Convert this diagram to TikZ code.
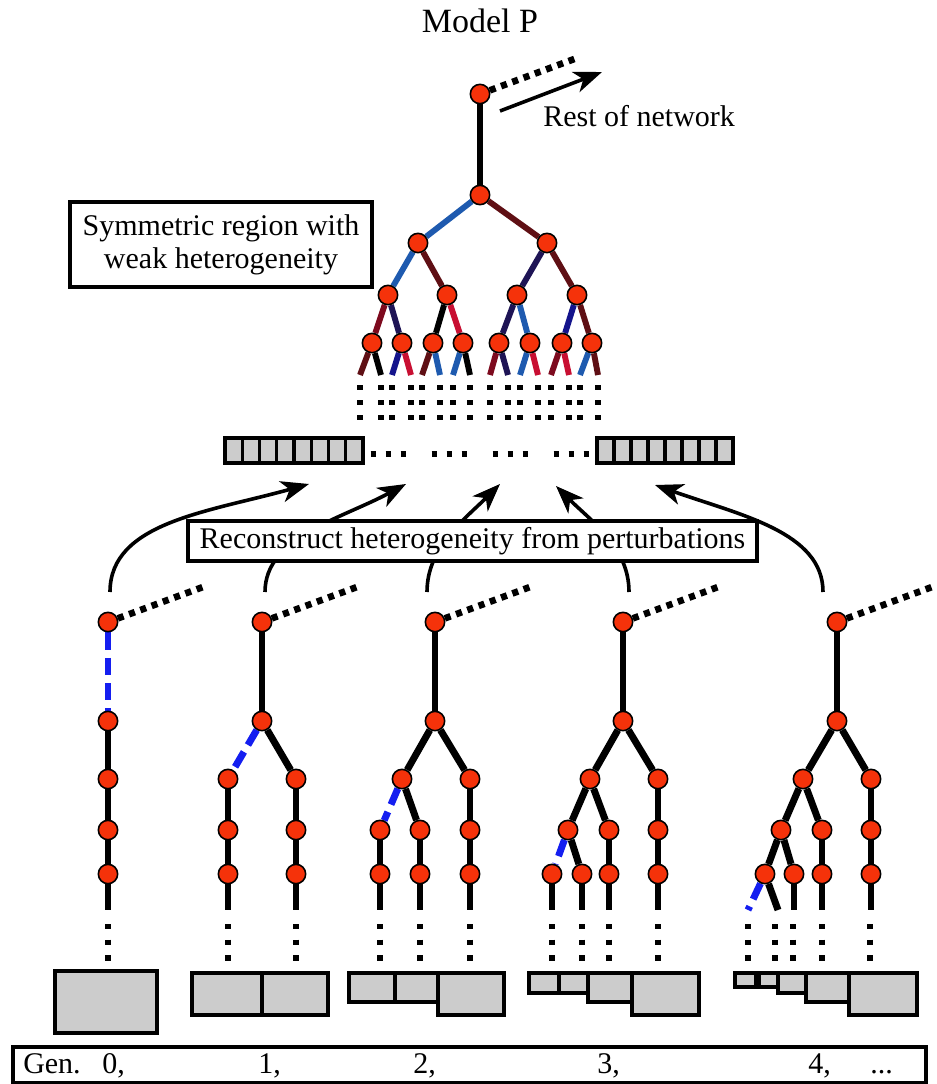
\documentclass[tikz,border=0pt]{standalone}
\usepackage{fontspec}
\setmainfont{Liberation Serif}
\usetikzlibrary{arrows.meta,backgrounds}
\definecolor{nred}{RGB}{245,50,10}
\definecolor{cgray}{RGB}{204,204,204}
\definecolor{cblue}{RGB}{30,90,175}
\definecolor{cmar}{RGB}{95,15,20}
\definecolor{cdred}{RGB}{125,10,30}
\definecolor{cnavy}{RGB}{30,20,85}
\definecolor{cdb}{RGB}{20,20,140}
\definecolor{ccrim}{RGB}{200,15,50}
\definecolor{dblue}{RGB}{20,30,240}
\begin{document}
\begin{tikzpicture}[x=0.75pt,y=-0.75pt,
  pt/.style={circle,draw=black,fill=nred,line width=1.2pt,minimum size=14.5pt,inner sep=0pt},
  te/.style={line width=4.4pt},
  be/.style={line width=5.2pt},
  bd/.style={line width=5.2pt,draw=dblue,dash pattern=on 13pt off 6pt},
  rd/.style={line width=5pt,dash pattern=on 4.6pt off 4.4pt},
  vd/.style={line width=4.1pt,dash pattern=on 4.1pt off 7.15pt},
  vdb/.style={line width=4.1pt,dash pattern=on 4.1pt off 7.6pt},
  cell/.style={draw=black,fill=cgray,line width=2.6pt},
  tb/.style={draw=black,line width=2.4pt,fill=white,inner sep=0pt,align=center,font=\fontsize{22.5}{24.75}\selectfont},
  lbl/.style={inner sep=0pt,font=\fontsize{22.5}{24.75}\selectfont},
  arr/.style={line width=2.7pt,-{Stealth[length=21pt,width=16pt,inset=6pt]}}
]
\useasboundingbox (0,0) rectangle (937,1084);

% ---------- top tree ----------
\node[lbl,font=\fontsize{25.5}{28}\selectfont,anchor=base] (title) at (480,33) {Model P};
\node[pt] (r0) at (480,94) {};
\node[pt] (r1) at (480,195) {};
\coordinate (r0q) at (577,58);
\coordinate (rs) at (500,111);
\coordinate (re) at (602,72);
\node[lbl,anchor=base west] (rest) at (543,127) {Rest of network};
\node[pt] (A) at (418,243) {};
\node[pt] (B) at (547,243) {};
\node[pt] (A1) at (388,295) {};
\node[pt] (A2) at (447,295) {};
\node[pt] (B1) at (517,295) {};
\node[pt] (B2) at (577,295) {};
\node[pt] (L1) at (372,343) {};
\node[pt] (L2) at (402,343) {};
\node[pt] (L3) at (433,343) {};
\node[pt] (L4) at (463,343) {};
\node[pt] (L5) at (499,343) {};
\node[pt] (L6) at (530,343) {};
\node[pt] (L7) at (562,343) {};
\node[pt] (L8) at (592,343) {};
\foreach \n/\x in {1/360,2/381,3/392,4/411,5/422,6/440,7/453,8/470,9/490,10/508,11/520,12/538,13/551,14/569,15/580,16/598}
  \coordinate (e\n) at (\x,375);

\node[tb,minimum width=226.5pt,minimum height=63.75pt] (sym) at (221,244.5) {Symmetric region with\\weak heterogeneity};

% ---------- strips ----------
\foreach \i in {0,...,7}
  \draw[cell] ({225+\i*17.25},438) rectangle ({225+(\i+1)*17.25},463);
\foreach \i in {0,...,7}
  \draw[cell] ({597+\i*17},438) rectangle ({597+(\i+1)*17},463);
\foreach \x in {370.5,431.5,492.5,553.5}
  \draw[line width=4.1pt,dash pattern=on 4.1pt off 7.15pt] (\x,454) -- (\x+36,454);

% ---------- bottom trees ----------
% tree 0
\node[pt] (t0r) at (108,622) {};
\node[pt] (t0a) at (108,721) {};
\node[pt] (t0b) at (108,779) {};
\node[pt] (t0c) at (108,830) {};
\node[pt] (t0d) at (108,874) {};
\coordinate (t0x) at (108,910);
\coordinate (t0q) at (203,587);
% tree 1
\node[pt] (t1r) at (262,622) {};
\node[pt] (t1a) at (262,721) {};
\node[pt] (t1bl) at (228,779) {};
\node[pt] (t1br) at (296,779) {};
\node[pt] (t1cl) at (228,830) {};
\node[pt] (t1cr) at (296,830) {};
\node[pt] (t1dl) at (228,874) {};
\node[pt] (t1dr) at (296,874) {};
\coordinate (t1xl) at (228,910);
\coordinate (t1xr) at (296,910);
\coordinate (t1q) at (357,587);
% tree 2
\node[pt] (t2r) at (435,622) {};
\node[pt] (t2a) at (435,721) {};
\node[pt] (t2bl) at (402,779) {};
\node[pt] (t2br) at (470,779) {};
\node[pt] (t2cll) at (380,830) {};
\node[pt] (t2clr) at (420,830) {};
\node[pt] (t2cr) at (470,830) {};
\node[pt] (t2dll) at (380,874) {};
\node[pt] (t2dlr) at (420,874) {};
\node[pt] (t2dr) at (470,874) {};
\coordinate (t2x1) at (380,910);
\coordinate (t2x2) at (420,910);
\coordinate (t2x3) at (470,910);
\coordinate (t2q) at (530,587);
% tree 3
\node[pt] (t3r) at (623,622) {};
\node[pt] (t3a) at (623,721) {};
\node[pt] (t3bl) at (590,779) {};
\node[pt] (t3br) at (658,779) {};
\node[pt] (t3cll) at (568,830) {};
\node[pt] (t3clr) at (609,830) {};
\node[pt] (t3cr) at (658,830) {};
\node[pt] (t3d1) at (552,874) {};
\node[pt] (t3d2) at (582,874) {};
\node[pt] (t3d3) at (609,874) {};
\node[pt] (t3d4) at (658,874) {};
\coordinate (t3x1) at (552,910);
\coordinate (t3x2) at (582,910);
\coordinate (t3x3) at (609,910);
\coordinate (t3x4) at (658,910);
\coordinate (t3q) at (718,587);
% tree 4
\node[pt] (t4r) at (837,622) {};
\node[pt] (t4a) at (837,721) {};
\node[pt] (t4bl) at (803,779) {};
\node[pt] (t4br) at (871,779) {};
\node[pt] (t4cll) at (781,830) {};
\node[pt] (t4clr) at (822,830) {};
\node[pt] (t4cr) at (871,830) {};
\node[pt] (t4d1) at (765,874) {};
\node[pt] (t4d2) at (794,874) {};
\node[pt] (t4d3) at (822,874) {};
\node[pt] (t4d4) at (871,874) {};
\coordinate (t4x0) at (748,910);
\coordinate (t4x1) at (778,910);
\coordinate (t4x2) at (794,910);
\coordinate (t4x3) at (822,910);
\coordinate (t4x4) at (871,910);
\coordinate (t4q) at (932,587);

% arrow coordinates
\coordinate (a0s) at (110,592); \coordinate (a0e) at (309,484);
\coordinate (a1s) at (265,592); \coordinate (a1e) at (406,484);
\coordinate (a2s) at (427,592); \coordinate (a2e) at (500,484);
\coordinate (a3s) at (629,592); \coordinate (a3e) at (556,486);
\coordinate (a4s) at (823,592); \coordinate (a4e) at (655,485);

\draw[arr] (a0s) .. controls +(0,-70) and +(-100,28) .. (a0e);
\draw[arr] (a1s) .. controls +(0,-55) and +(-65,35) .. (a1e);
\draw[arr] (a2s) .. controls +(0,-45) and +(-35,35) .. (a2e);
\draw[arr] (a3s) .. controls +(0,-45) and +(35,35) .. (a3e);
\draw[arr] (a4s) .. controls +(0,-60) and +(85,30) .. (a4e);

\node[tb,minimum width=426.75pt,minimum height=30pt] (rec) at (472.5,541) {Reconstruct heterogeneity from perturbations};

% bottom boxes
\draw[cell] (55,971) rectangle (157,1033);
\draw[cell] (192,973) rectangle (262,1015);
\draw[cell] (262,973) rectangle (328,1015);
\draw[cell] (349,973) rectangle (395,1002);
\draw[cell] (395,973) rectangle (438,1002);
\draw[cell] (438,973) rectangle (504,1015);
\draw[cell] (529,973) rectangle (559,993);
\draw[cell] (559,973) rectangle (588,993);
\draw[cell] (588,973) rectangle (632,1002);
\draw[cell] (632,973) rectangle (699,1015);
\draw[cell] (735,973) rectangle (756,987);
\draw[cell] (759,973) rectangle (778,987);
\draw[cell] (778,973) rectangle (806,993);
\draw[cell] (806,973) rectangle (849,1002);
\draw[cell] (849,973) rectangle (917,1015);

% bottom vertical dots
\foreach \x in {108,228,296,380,420,470,552,582,609,658,748,775,793,822,870}
  \draw[vdb] (\x,924) -- (\x,961);
% top vertical dots
\foreach \x in {360,381,392,411,422,440,453,470,490,508,520,538,551,569,580,598}
  \draw[vd] (\x,385) -- (\x,421.5);

% Gen label
\node[draw=black,line width=2.4pt,minimum width=684.75pt,minimum height=27pt,inner sep=0pt] (gen) at (469.5,1065) {};
\node[lbl,anchor=base west] (g0) at (23,1073) {Gen.};
\node[lbl,anchor=base west] (g1) at (102,1073) {0,};
\node[lbl,anchor=base west] (g2) at (258,1073) {1,};
\node[lbl,anchor=base west] (g3) at (413,1073) {2,};
\node[lbl,anchor=base west] (g4) at (597,1073) {3,};
\node[lbl,anchor=base west] (g5) at (808,1073) {4,};
\node[lbl,anchor=base west] (g6) at (870,1073) {...};

% ---------- edges behind nodes ----------
\begin{scope}[on background layer]
\fill[white] (0,0) rectangle (937,1084);
\draw[te] (r0) -- (r1);
\draw[rd] (r0) -- (r0q);
\draw[arr] (rs) -- (re);
\draw[te,cblue] (r1) -- (A);
\draw[te,cmar] (r1) -- (B);
\draw[te,cblue] (A) -- (A1);
\draw[te,cmar] (A) -- (A2);
\draw[te,cnavy] (B) -- (B1);
\draw[te,cmar] (B) -- (B2);
\draw[te,cdred] (A1) -- (L1);
\draw[te,cnavy] (A1) -- (L2);
\draw[te,black] (A2) -- (L3);
\draw[te,ccrim] (A2) -- (L4);
\draw[te,cnavy] (B1) -- (L5);
\draw[te,cblue] (B1) -- (L6);
\draw[te,cdb] (B2) -- (L7);
\draw[te,cmar] (B2) -- (L8);
\draw[te,cmar] (L1) -- (e1);  \draw[te,black] (L1) -- (e2);
\draw[te,cdb] (L2) -- (e3);   \draw[te,ccrim] (L2) -- (e4);
\draw[te,cmar] (L3) -- (e5);  \draw[te,cblue] (L3) -- (e6);
\draw[te,cblue] (L4) -- (e7); \draw[te,black] (L4) -- (e8);
\draw[te,cdred] (L5) -- (e9); \draw[te,cnavy] (L5) -- (e10);
\draw[te,cblue] (L6) -- (e11); \draw[te,ccrim] (L6) -- (e12);
\draw[te,cdred] (L7) -- (e13); \draw[te,ccrim] (L7) -- (e14);
\draw[te,cblue] (L8) -- (e15); \draw[te,cmar] (L8) -- (e16);
% tree 0
\draw[bd] (t0r) -- (t0a);
\draw[be] (t0a) -- (t0b) -- (t0c) -- (t0d) -- (t0x);
\draw[rd] (t0r) -- (t0q);
% tree 1
\draw[be] (t1r) -- (t1a);
\draw[bd] (t1a) -- (t1bl);
\draw[be] (t1a) -- (t1br);
\draw[be] (t1bl) -- (t1cl) -- (t1dl) -- (t1xl);
\draw[be] (t1br) -- (t1cr) -- (t1dr) -- (t1xr);
\draw[rd] (t1r) -- (t1q);
% tree 2
\draw[be] (t2r) -- (t2a);
\draw[be] (t2a) -- (t2bl);
\draw[be] (t2a) -- (t2br);
\draw[bd] (t2bl) -- (t2cll);
\draw[be] (t2bl) -- (t2clr);
\draw[be] (t2cll) -- (t2dll) -- (t2x1);
\draw[be] (t2clr) -- (t2dlr) -- (t2x2);
\draw[be] (t2br) -- (t2cr) -- (t2dr) -- (t2x3);
\draw[rd] (t2r) -- (t2q);
% tree 3
\draw[be] (t3r) -- (t3a);
\draw[be] (t3a) -- (t3bl);
\draw[be] (t3a) -- (t3br);
\draw[be] (t3bl) -- (t3cll);
\draw[be] (t3bl) -- (t3clr);
\draw[bd] (t3cll) -- (t3d1);
\draw[be] (t3cll) -- (t3d2);
\draw[be] (t3clr) -- (t3d3);
\draw[be] (t3br) -- (t3cr) -- (t3d4);
\draw[be] (t3d1) -- (t3x1);
\draw[be] (t3d2) -- (t3x2);
\draw[be] (t3d3) -- (t3x3);
\draw[be] (t3d4) -- (t3x4);
\draw[rd] (t3r) -- (t3q);
% tree 4
\draw[be] (t4r) -- (t4a);
\draw[be] (t4a) -- (t4bl);
\draw[be] (t4a) -- (t4br);
\draw[be] (t4bl) -- (t4cll);
\draw[be] (t4bl) -- (t4clr);
\draw[be] (t4cll) -- (t4d1);
\draw[be] (t4cll) -- (t4d2);
\draw[be] (t4clr) -- (t4d3);
\draw[be] (t4br) -- (t4cr) -- (t4d4);
\draw[bd] (t4d1) -- (t4x0);
\draw[be] (t4d1) -- (t4x1);
\draw[be] (t4d2) -- (t4x2);
\draw[be] (t4d3) -- (t4x3);
\draw[be] (t4d4) -- (t4x4);
\draw[rd] (t4r) -- (t4q);
\end{scope}
\end{tikzpicture}
\end{document}
